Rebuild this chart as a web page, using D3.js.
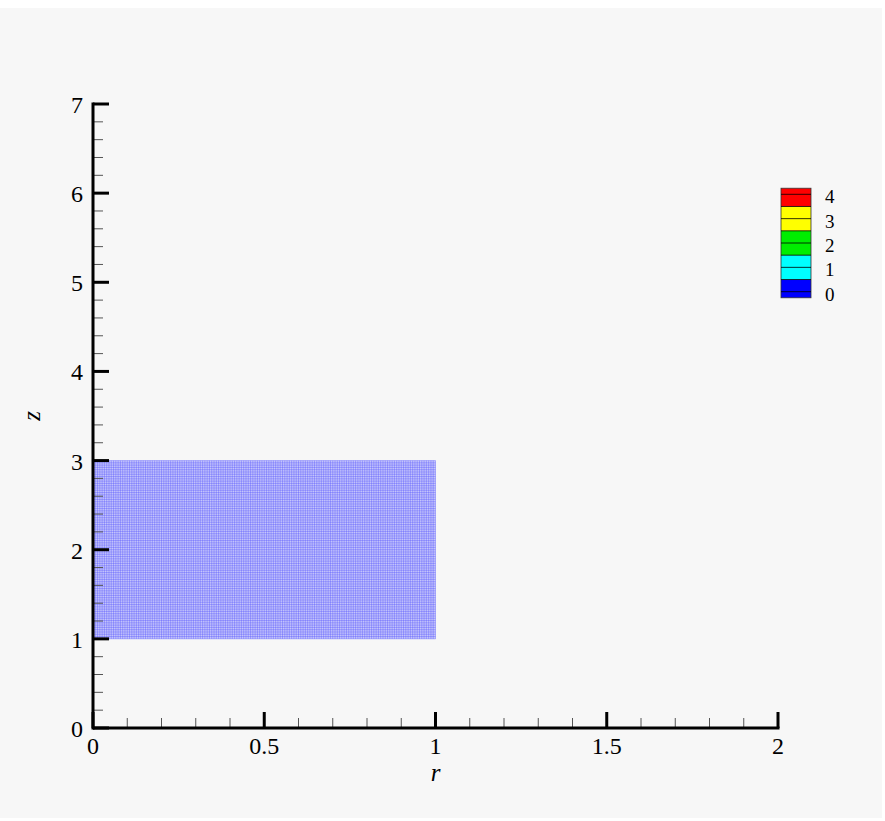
<!DOCTYPE html>
<html><head><meta charset="utf-8">
<script src="https://cdn.jsdelivr.net/npm/d3@7"></script>
<style>html,body{margin:0;padding:0;background:#ffffff;}svg{display:block;}</style>
</head><body>
<script>
// Data
const rTicks = [0, 0.5, 1, 1.5, 2];
const rTickLabels = ["0", "0.5", "1", "1.5", "2"];
const zTicks = [0, 1, 2, 3, 4, 5, 6, 7];
const zTickLabels = ["0", "1", "2", "3", "4", "5", "6", "7"];
const meshRExtent = [0, 1];
const meshZExtent = [1, 3];
const meshCellsR = 150;
const meshCellsZ = 78;
const legendLevels = [0, 1, 2, 3, 4];
const legendColors = ["#0000ff", "#00ffff", "#00ee00", "#ffff00", "#ff0000"];
const legendLines = [0, 0.5, 1, 1.5, 2, 2.5, 3, 3.5, 4];

const W = 885, H = 821;
const svg = d3.select("body").append("svg").attr("width", W).attr("height", H);
svg.append("rect").attr("width", W).attr("height", H).attr("fill", "#ffffff");
svg.append("rect").attr("x", 0).attr("y", 8).attr("width", 882).attr("height", 810).attr("fill", "#f7f7f7");

const x = d3.scaleLinear().domain([0, 2]).range([93, 778]);
const y = d3.scaleLinear().domain([0, 7]).range([728, 104]);
const font = "'Liberation Serif', 'Times New Roman', serif";

// Mesh
const mesh = svg.append("g");
mesh.append("rect")
  .attr("x", x(meshRExtent[0])).attr("y", y(meshZExtent[1]))
  .attr("width", x(meshRExtent[1]) - x(meshRExtent[0]))
  .attr("height", y(meshZExtent[0]) - y(meshZExtent[1]))
  .attr("fill", "#c6c6fb");
const rLines = d3.range(meshCellsR + 1).map(i => meshRExtent[0] + (meshRExtent[1] - meshRExtent[0]) * i / meshCellsR);
const zLines = d3.range(meshCellsZ + 1).map(i => meshZExtent[0] + (meshZExtent[1] - meshZExtent[0]) * i / meshCellsZ);
mesh.selectAll("line.vr").data(rLines).join("line")
  .attr("x1", d => x(d)).attr("x2", d => x(d))
  .attr("y1", y(meshZExtent[0])).attr("y2", y(meshZExtent[1]))
  .attr("stroke", "#4040ff").attr("stroke-width", 0.5).attr("stroke-opacity", 0.65);
mesh.selectAll("line.hz").data(zLines).join("line")
  .attr("x1", x(meshRExtent[0])).attr("x2", x(meshRExtent[1]))
  .attr("y1", d => y(d)).attr("y2", d => y(d))
  .attr("stroke", "#4040ff").attr("stroke-width", 0.5).attr("stroke-opacity", 0.65);

// Minor ticks
const rMinor = d3.range(0, 21).map(i => i / 10).filter(v => !rTicks.some(t => Math.abs(t - v) < 1e-9));
const zMinor = d3.range(0, 36).map(i => i / 5).filter(v => !zTicks.some(t => Math.abs(t - v) < 1e-9));
svg.append("g").selectAll("line").data(rMinor).join("line")
  .attr("x1", d => x(d)).attr("x2", d => x(d)).attr("y1", y(0)).attr("y2", y(0) - 10)
  .attr("stroke", "#555").attr("stroke-width", 1);
svg.append("g").selectAll("line").data(zMinor).join("line")
  .attr("y1", d => y(d)).attr("y2", d => y(d)).attr("x1", x(0)).attr("x2", x(0) + 10)
  .attr("stroke", "#555").attr("stroke-width", 1);

// Major ticks
svg.append("g").selectAll("line").data(rTicks).join("line")
  .attr("x1", d => x(d)).attr("x2", d => x(d)).attr("y1", y(0)).attr("y2", y(0) - 16)
  .attr("stroke", "#000").attr("stroke-width", 3);
svg.append("g").selectAll("line").data(zTicks).join("line")
  .attr("y1", d => y(d)).attr("y2", d => y(d)).attr("x1", x(0)).attr("x2", x(0) + 16)
  .attr("stroke", "#000").attr("stroke-width", 3);

// Axis lines
svg.append("line").attr("x1", x(0)).attr("x2", x(2) + 1.5).attr("y1", y(0)).attr("y2", y(0))
  .attr("stroke", "#000").attr("stroke-width", 3);
svg.append("line").attr("x1", x(0)).attr("x2", x(0)).attr("y1", y(0) + 1.5).attr("y2", y(7) - 1.5)
  .attr("stroke", "#000").attr("stroke-width", 3);

// Tick labels
svg.append("g").selectAll("text").data(rTicks).join("text")
  .attr("x", d => x(d)).attr("y", y(0) + 26)
  .attr("text-anchor", "middle").attr("font-family", font).attr("font-size", 24)
  .text((d, i) => rTickLabels[i]);
svg.append("g").selectAll("text").data(zTicks).join("text")
  .attr("x", x(0) - 10).attr("y", d => y(d) + 9)
  .attr("text-anchor", "end").attr("font-family", font).attr("font-size", 24)
  .text((d, i) => zTickLabels[i]);

// Axis titles
svg.append("text").attr("x", x(1)).attr("y", 781).attr("text-anchor", "middle")
  .attr("font-family", font).attr("font-style", "italic").attr("font-size", 25).text("r");
svg.append("text").attr("transform", `translate(40,${y(3.5)}) rotate(-90)`).attr("text-anchor", "middle")
  .attr("font-family", font).attr("font-style", "italic").attr("font-size", 25).text("z");

// Legend
const ly = d3.scaleLinear().domain([0, 4]).range([291.7, 194.3]);
const lx0 = 781, lw = 30;
const lg = svg.append("g");
lg.selectAll("rect").data(legendLevels).join("rect")
  .attr("x", lx0).attr("width", lw)
  .attr("y", d => ly(Math.min(d + 0.5, 4.25)))
  .attr("height", d => ly(Math.max(d - 0.5, -0.25)) - ly(Math.min(d + 0.5, 4.25)))
  .attr("fill", (d, i) => legendColors[i]);
lg.append("rect").attr("x", lx0).attr("width", lw).attr("y", ly(4.25)).attr("height", ly(-0.25) - ly(4.25))
  .attr("fill", "none").attr("stroke", "#333").attr("stroke-width", 0.8);
lg.selectAll("line").data(legendLines).join("line")
  .attr("x1", lx0).attr("x2", lx0 + lw).attr("y1", d => ly(d)).attr("y2", d => ly(d))
  .attr("stroke", "#000").attr("stroke-width", 0.8);
lg.selectAll("text").data(legendLevels).join("text")
  .attr("x", 825).attr("y", d => ly(d) + 9)
  .attr("font-family", font).attr("font-size", 19)
  .text(d => d);
</script>
</body></html>
